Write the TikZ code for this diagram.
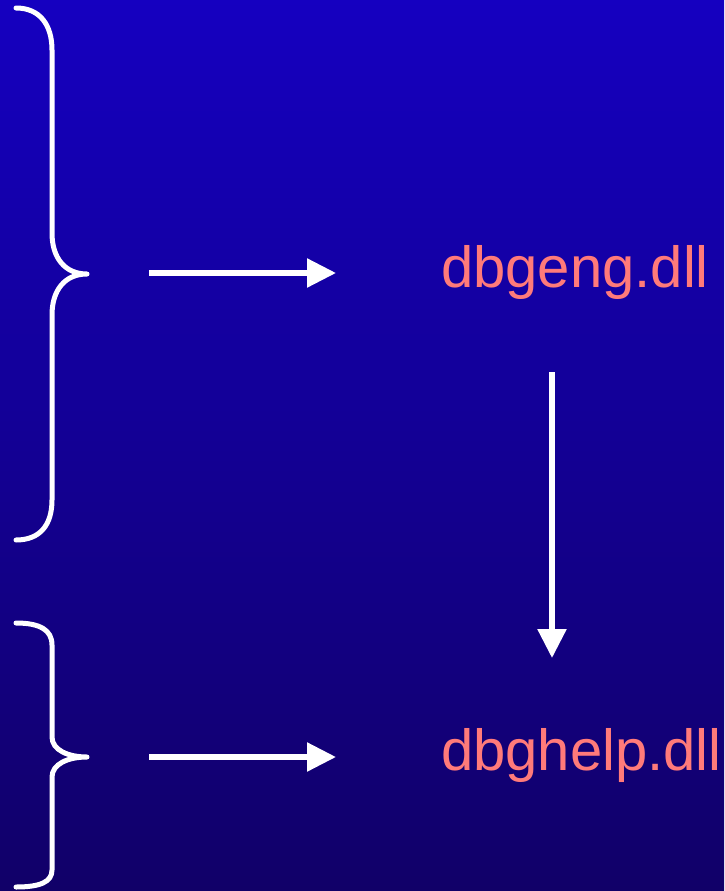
\documentclass[tikz,border=0pt]{standalone}
\usepackage{fontspec}
\setmainfont{Liberation Sans}
\usetikzlibrary{arrows.meta}
\definecolor{bgtop}{RGB}{21,0,192}
\definecolor{bgbottom}{RGB}{17,0,104}
\definecolor{dllpink}{RGB}{255,122,122}
\tikzset{
  brace/.style={draw=white, line width=5pt, line cap=round, line join=round},
  flow/.style={draw=white, line width=5.5pt, -{Triangle[length=29pt,width=28pt]}},
  dll/.style={text=dllpink, font=\fontsize{58}{60}\selectfont, inner sep=0pt, anchor=base west}
}
\begin{document}
\begin{tikzpicture}[x=1pt,y=-1pt]
  % backdrop with vertical blue gradient
  \shade[top color=bgtop, bottom color=bgbottom] (0,0) rectangle (724,891);
  \useasboundingbox (0,0) rectangle (724,891);

  % upper brace
  \draw[brace] (16,8) .. controls (40,8) and (52,25) .. (52,50) -- (52,233)
    .. controls (52,258) and (65,274) .. (87,274)
    .. controls (65,274) and (52,290) .. (52,315) -- (52,500)
    .. controls (52,525) and (40,540) .. (16,540);

  % lower brace
  \draw[brace] (16,623) .. controls (40,623) and (52,630) .. (52,645) -- (52,737)
    .. controls (52,750) and (68,757) .. (87,757)
    .. controls (68,757) and (52,764) .. (52,777) -- (52,870)
    .. controls (52,882) and (40,887) .. (16,887);

  % library names
  \node[dll] (geng) at (441,287) {dbgeng.dll};
  \node[dll] (help) at (441,770) {dbghelp.dll};

  % arrow endpoints
  \coordinate (a1s) at (149,273);
  \coordinate (a1e) at (336,273);
  \coordinate (a2s) at (149,757);
  \coordinate (a2e) at (336,757);
  \coordinate (vs) at (552,372);
  \coordinate (ve) at (552,658);

  \draw[flow] (a1s) -- (a1e);
  \draw[flow] (a2s) -- (a2e);
  \draw[flow] (vs) -- (ve);
\end{tikzpicture}
\end{document}
